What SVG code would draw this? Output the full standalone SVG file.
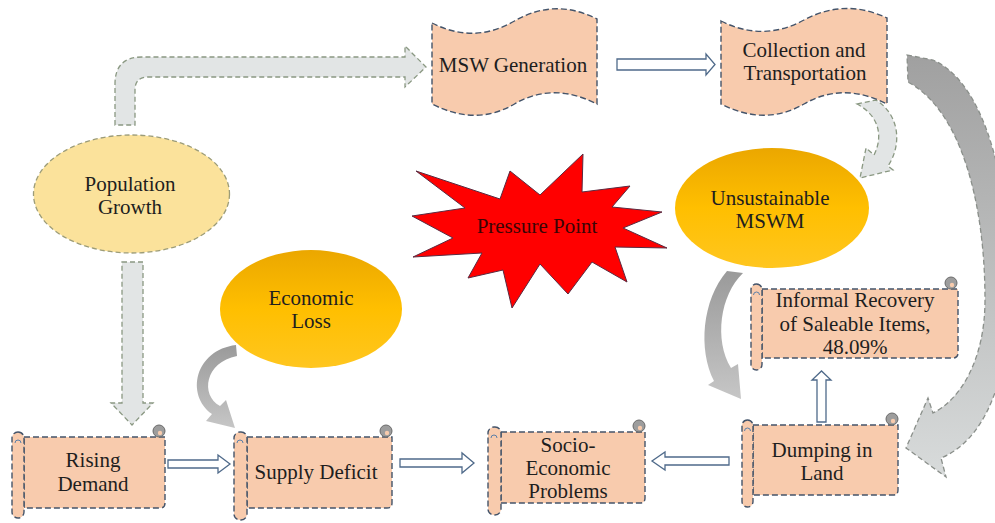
<svg xmlns="http://www.w3.org/2000/svg" width="995" height="523" viewBox="0 0 995 523">
<defs>
<linearGradient id="gold" x1="0" y1="0" x2="0" y2="1">
<stop offset="0" stop-color="#eba700"/><stop offset="0.5" stop-color="#ffbf00"/><stop offset="1" stop-color="#ffc61f"/>
</linearGradient>
<linearGradient id="gbig" x1="0" y1="0" x2="0" y2="1">
<stop offset="0" stop-color="#a0a0a0"/><stop offset="1" stop-color="#d8dbdb"/>
</linearGradient>
<linearGradient id="gcur" x1="0" y1="0" x2="0" y2="1">
<stop offset="0" stop-color="#9a9a9a"/><stop offset="1" stop-color="#c6c6c6"/>
</linearGradient>
</defs>
<style>
text{font-family:'Liberation Serif','Times New Roman','DejaVu Serif',serif;font-size:21px;fill:#1e1e1e;text-anchor:middle}
.tape{fill:#f8cbad;stroke:#44546a;stroke-width:1.4;stroke-dasharray:6 3}
.body{fill:#f8cbad;stroke:#44546a;stroke-width:1.4;stroke-dasharray:6 3}
.roll{fill:#f8cbad;stroke:#44546a;stroke-width:1.4;stroke-dasharray:6 3}
.curl{fill:#9d9d9d;stroke:#6a6a6a;stroke-width:1}
.curlin{fill:#f8cbad}
.lc{fill:none;stroke:#5b7fa8;stroke-width:1}
.light{fill:#e2e5e5;stroke:#8a9882;stroke-width:1.3;stroke-dasharray:5 3}
.white{fill:#ffffff;stroke:#4f6a8a;stroke-width:1.3}
.big{fill:url(#gbig);stroke:#8a8f8a;stroke-width:1.3;stroke-dasharray:5 3}
.solid{fill:url(#gcur)}
.gold{fill:url(#gold)}
</style>

<g id="connectors">
<path class="light" d="M115,125 L115,84 Q115,57 142,57 L405,57 L405,46 L426,67 L405,87 L405,77 L148,77 Q135,77 135,90 L135,125 Z"/>
<path class="light" d="M122,262 H143 V403 H153 L132,425 L111,403 H122 Z"/>
<path class="white" d="M617,59 H706 V54 L715,64.5 L706,75 V70 H617 Z"/>
<path class="white" d="M168,460 H218 V455 L230,464 L218,473 V468 H168 Z"/>
<path class="white" d="M400,459 H462 V453 L474,463 L462,473 V467 H400 Z"/>
<path class="white" d="M729,457 H665 V452 L652,461 L665,470 V465 H729 Z"/>
<path class="white" d="M817,422 V380 H812 L821.5,371 L831,380 H826 V422 Z"/>
<path class="light" d="M857,104 L876,100 C900,115 902,145 888,166 L893,170 L860,178 L866,148 L874,155 C884,135 878,115 857,104 Z"/>
<path class="big" d="M907,55 L933,60 C990,85 1012,200 1010,300 C1008,380 985,440 941,458 L946,477 L906,448 L928,398 L933,413 C960,400 985,360 985,300 C985,200 960,110 908,82 Z"/>
<path class="solid" d="M727,271 L743,273 C720,295 714,340 731,368 L738,364 L741,399 L708,385 L714,381 C698,350 702,300 727,271 Z"/>
<path class="solid" d="M236,345 L237,356 C205,362 200,395 220,406 L226,400 L235,428 L206,421 L212,414 C185,395 195,350 236,345 Z"/>
</g>

<g id="population-growth">
<ellipse cx="131.5" cy="194" rx="98" ry="59" fill="#fbe29b" stroke="#9c9c78" stroke-width="1.3" stroke-dasharray="5 3"/>
<text x="130" y="191" font-family="Liberation Serif, serif">Population</text>
<text x="130" y="214" font-family="Liberation Serif, serif">Growth</text>
</g>

<g id="msw-generation">
<path class="tape" d="M432,23 C459.5,37 487,37 514.5,21 C542,5 569.5,5 597,19 L597,104 C569.5,90 542,88 514.5,104 C487,120 459.5,118 432,104 Z"/>
<text x="513" y="72" font-family="Liberation Serif, serif">MSW Generation</text>
</g>

<g id="collection-transportation">
<path class="tape" d="M721,21 C748.7,35 776.3,35 804,20 C831.7,5 859.3,5 887,18 L887,104 C859.3,90 831.7,88 804,104 C776.3,120 748.7,118 721,104 Z"/>
<text x="804" y="57" font-family="Liberation Serif, serif">Collection and</text>
<text x="805" y="80" font-family="Liberation Serif, serif">Transportation</text>
</g>

<g id="pressure-point">
<polygon points="416,171 500,199 510,171 540,195 583,154 582,192 630,186 612,207 662,212 623,228 667,248 615,247 627,282 592,262 568,294 540,264 512,308 503,270 468,278 482,253 413,257 453,238 412,216 465,208" fill="#ff0000" stroke="#5a2a40" stroke-width="1"/>
<text x="537" y="233" font-family="Liberation Serif, serif" style="fill:#3a0505">Pressure Point</text>
</g>

<g id="unsustainable-mswm">
<ellipse class="gold" cx="772" cy="208" rx="97" ry="60"/>
<text x="770" y="205" font-family="Liberation Serif, serif">Unsustainable</text>
<text x="770" y="228" font-family="Liberation Serif, serif">MSWM</text>
</g>

<g id="economic-loss">
<ellipse class="gold" cx="311" cy="309" rx="91" ry="59"/>
<text x="311" y="305" font-family="Liberation Serif, serif">Economic</text>
<text x="311" y="328" font-family="Liberation Serif, serif">Loss</text>
</g>

<g id="rising-demand">
<path class="body" d="M24,437 H165 V503 Q165,508 160,508 H24 Z"/>
<circle class="curl" cx="159" cy="431" r="6"/><circle class="curlin" cx="160" cy="433" r="2.2"/>
<rect class="roll" x="12" y="432" width="12" height="86" rx="6"/>
<path class="lc" d="M15,443 a3,3 0 1,1 6,0"/>
<text x="93" y="467" font-family="Liberation Serif, serif">Rising</text>
<text x="93" y="491" font-family="Liberation Serif, serif">Demand</text>
</g>

<g id="supply-deficit">
<path class="body" d="M247,437 H392 V503 Q392,508 387,508 H247 Z"/>
<circle class="curl" cx="386" cy="431" r="6"/><circle class="curlin" cx="387" cy="433" r="2.2"/>
<rect class="roll" x="234" y="432" width="13" height="88" rx="6"/>
<path class="lc" d="M237,443 a3,3 0 1,1 6,0"/>
<text x="316" y="479" font-family="Liberation Serif, serif">Supply Deficit</text>
</g>

<g id="socio-economic-problems">
<path class="body" d="M501,432 H645 V498 Q645,503 640,503 H501 Z"/>
<circle class="curl" cx="639" cy="426" r="6"/><circle class="curlin" cx="640" cy="428" r="2.2"/>
<rect class="roll" x="488" y="427" width="13" height="88" rx="6"/>
<path class="lc" d="M491,438 a3,3 0 1,1 6,0"/>
<text x="568" y="452" font-family="Liberation Serif, serif">Socio-</text>
<text x="568" y="475" font-family="Liberation Serif, serif">Economic</text>
<text x="568" y="498" font-family="Liberation Serif, serif">Problems</text>
</g>

<g id="dumping-in-land">
<path class="body" d="M753,425 H898 V490 Q898,495 893,495 H753 Z"/>
<circle class="curl" cx="892" cy="419" r="6"/><circle class="curlin" cx="893" cy="421" r="2.2"/>
<rect class="roll" x="742" y="420" width="11" height="87" rx="5.5"/>
<path class="lc" d="M744.5,431 a3,3 0 1,1 6,0"/>
<text x="822" y="457" font-family="Liberation Serif, serif">Dumping in</text>
<text x="822" y="480" font-family="Liberation Serif, serif">Land</text>
</g>

<g id="informal-recovery">
<path class="body" d="M762,289 H958 V353 Q958,358 953,358 H762 Z"/>
<circle class="curl" cx="951" cy="283" r="6"/><circle class="curlin" cx="952" cy="285" r="2.2"/>
<rect class="roll" x="751" y="284" width="11" height="86" rx="5.5"/>
<path class="lc" d="M753.5,295 a3,3 0 1,1 6,0"/>
<text x="855" y="307" font-family="Liberation Serif, serif">Informal Recovery</text>
<text x="855" y="331" font-family="Liberation Serif, serif">of Saleable Items,</text>
<text x="855" y="354" font-family="Liberation Serif, serif">48.09%</text>
</g>
</svg>
